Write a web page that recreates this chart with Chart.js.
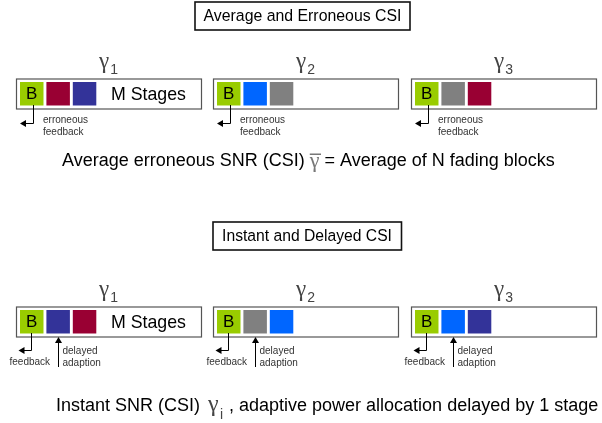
<!DOCTYPE html>
<html>
<head>
<meta charset="utf-8">
<script src="https://cdn.jsdelivr.net/npm/chart.js@4.4.1/dist/chart.umd.min.js"></script>
<style>
  html, body { margin: 0; padding: 0; background: #fff; overflow: hidden; }
  #chart-container { width: 602px; height: 423px; }
</style>
</head>
<body>
<div id="chart-container"><canvas id="chart"></canvas></div>
<script>
// text and stage sequences
const panelTitles = ["Average and Erroneous CSI", "Instant and Delayed CSI"];
const blockIndex = ["1", "2", "3"];
const avgStages = [["B", "red", "navy"], ["B", "blue", "gray"], ["B", "gray", "red"]];
const instStages = [["B", "navy", "red"], ["B", "gray", "blue"], ["B", "blue", "navy"]];
const stageNote = "M Stages";
const avgFeedback = ["erroneous", "feedback"];
const instFeedback = ["feedback"];
const delayNote = ["delayed", "adaption"];
const avgCaption = ["Average erroneous SNR (CSI)", "= Average of N fading blocks"];
const instCaption = ["Instant SNR (CSI)", ", adaptive power allocation delayed by 1 stage"];

// colours and layout (figure units = pixels of the 602x423 picture)
const palette = { B: "#99cc00", red: "#990033", navy: "#333399", blue: "#0066ff", gray: "#808080" };
const blockLeft = [16.5, 213.5, 411.5];
const blockWidth = 185;
const rowTop = [79, 307];
const rowHeight = 30;
const stageStep = 26.4;
const stageSide = 23.5;
const sans = '"Liberation Sans", Arial, sans-serif';
const serif = '"Liberation Serif", "Times New Roman", serif';

function stageDataset(stages, r) {
  const points = [];
  const colors = [];
  stages.forEach((seq, b) => {
    seq.forEach((name, i) => {
      points.push({ x: blockLeft[b] + 3.5 + stageSide / 2 + i * stageStep, y: rowTop[r] + 3 + stageSide / 2 });
      colors.push(palette[name]);
    });
  });
  return {
    data: points,
    pointStyle: "rect",
    pointRadius: stageSide / Math.SQRT2,
    pointBackgroundColor: colors,
    pointBorderWidth: 0,
    showLine: false,
  };
}

// font size that makes text span the given width
function fitSize(ctx, text, width, family) {
  ctx.font = "20px " + family;
  return (20 * width) / ctx.measureText(text).width;
}

function arrowHead(ctx, x, y, dir) {
  ctx.beginPath();
  if (dir === "left") {
    ctx.moveTo(x, y); ctx.lineTo(x + 6, y - 3.5); ctx.lineTo(x + 6, y + 3.5);
  } else {
    ctx.moveTo(x, y); ctx.lineTo(x - 3.5, y + 6); ctx.lineTo(x + 3.5, y + 6);
  }
  ctx.closePath();
  ctx.fill();
}

function drawGamma(ctx, x, y, sub, color) {
  ctx.fillStyle = color;
  ctx.textAlign = "left";
  ctx.textBaseline = "alphabetic";
  ctx.font = "23px " + serif;
  ctx.fillText("\u03b3", x, y);
  const w = ctx.measureText("\u03b3").width;
  ctx.font = "14px " + sans;
  ctx.fillText(sub, x + w + 1, y + 6);
}

const diagram = {
  id: "diagram",
  beforeDatasetsDraw(chart) {
    const ctx = chart.ctx;
    const X = (v) => chart.scales.x.getPixelForValue(v);
    const Y = (v) => chart.scales.y.getPixelForValue(v);
    ctx.save();
    // title frames
    ctx.strokeStyle = "#111";
    ctx.lineWidth = 1.6;
    ctx.strokeRect(X(195), Y(2), X(410) - X(195), Y(30) - Y(2));
    ctx.strokeRect(X(213), Y(222), X(401.5) - X(213), Y(250) - Y(222));
    // block frames
    ctx.strokeStyle = "#555";
    ctx.lineWidth = 1.2;
    rowTop.forEach((top) => {
      blockLeft.forEach((left) => {
        ctx.strokeRect(X(left), Y(top), X(left + blockWidth) - X(left), Y(top + rowHeight) - Y(top));
      });
    });
    ctx.restore();
  },
  afterDatasetsDraw(chart) {
    const ctx = chart.ctx;
    const X = (v) => chart.scales.x.getPixelForValue(v);
    const Y = (v) => chart.scales.y.getPixelForValue(v);
    ctx.save();

    // titles
    ctx.fillStyle = "#000";
    ctx.textAlign = "center";
    ctx.textBaseline = "middle";
    ctx.font = fitSize(ctx, panelTitles[0], 198, sans).toFixed(2) + "px " + sans;
    ctx.fillText(panelTitles[0], X(302.5), Y(16.5));
    ctx.font = fitSize(ctx, panelTitles[1], 170, sans).toFixed(2) + "px " + sans;
    ctx.fillText(panelTitles[1], X(307), Y(236.5));

    const noteSize = fitSize(ctx, stageNote, 75, sans);
    rowTop.forEach((top, r) => {
      blockLeft.forEach((left, b) => {
        // gamma labels
        drawGamma(ctx, X(left + blockWidth / 2 - 10), Y(top - 11), blockIndex[b], "#444");
        // B letter in first stage
        ctx.fillStyle = "#000";
        ctx.font = "17px " + sans;
        ctx.textAlign = "center";
        ctx.textBaseline = "middle";
        ctx.fillText("B", X(left + 3.5 + stageSide / 2), Y(top + 15));
        ctx.strokeStyle = "#000";
        ctx.lineWidth = 1;
        ctx.font = "10px " + sans;
        ctx.textAlign = "left";
        ctx.fillStyle = "#333";
        if (r === 0) {
          const vx = Math.round(X(left + 16.5)) + 0.5;
          ctx.beginPath();
          ctx.moveTo(vx, Y(top + 26));
          ctx.lineTo(vx, Y(123) + 0.5);
          ctx.lineTo(X(left + 6), Y(123) + 0.5);
          ctx.stroke();
          ctx.fillStyle = "#000";
          arrowHead(ctx, X(left + 3.5), Y(123) + 0.5, "left");
          ctx.fillStyle = "#333";
          ctx.fillText(avgFeedback[0], X(left + 26.5), Y(120));
          ctx.fillText(avgFeedback[1], X(left + 26.5), Y(132));
        } else {
          const vx = Math.round(X(left + 14.5)) + 0.5;
          ctx.beginPath();
          ctx.moveTo(vx, Y(top + 26));
          ctx.lineTo(vx, Y(350) + 0.5);
          ctx.lineTo(X(left + 5), Y(350) + 0.5);
          ctx.stroke();
          ctx.fillStyle = "#000";
          arrowHead(ctx, X(left + 2), Y(350) + 0.5, "left");
          const ax = Math.round(X(left + 41.5)) + 0.5;
          ctx.beginPath();
          ctx.moveTo(ax, Y(367));
          ctx.lineTo(ax, Y(top + rowHeight + 5));
          ctx.stroke();
          arrowHead(ctx, ax, Y(top + rowHeight), "up");
          ctx.fillStyle = "#333";
          ctx.fillText(instFeedback[0], X(left - 7), Y(362));
          ctx.fillText(delayNote[0], X(left + 46), Y(351));
          ctx.fillText(delayNote[1], X(left + 46), Y(363));
        }
      });
      // "M Stages" in the first block
      ctx.fillStyle = "#000";
      ctx.font = noteSize.toFixed(2) + "px " + sans;
      ctx.textAlign = "center";
      ctx.textBaseline = "middle";
      ctx.fillText(stageNote, X(148.5), Y(top + 16));
    });

    // caption 1 with gamma-bar
    const capFont = "18px " + sans;
    ctx.fillStyle = "#000";
    ctx.font = capFont;
    ctx.textAlign = "left";
    ctx.textBaseline = "middle";
    ctx.fillText(avgCaption[0], X(62), Y(161));
    const gx = X(62) + ctx.measureText(avgCaption[0]).width + 5;
    ctx.font = "22px " + serif;
    const gw = ctx.measureText("\u03b3").width;
    ctx.fillStyle = "#777";
    ctx.textBaseline = "alphabetic";
    ctx.fillText("\u03b3", gx, Y(167));
    ctx.fillRect(gx, Y(153.5), gw + 1.5, 1.5);
    ctx.fillStyle = "#000";
    ctx.font = capFont;
    ctx.textBaseline = "middle";
    ctx.fillText(avgCaption[1], gx + gw + 5, Y(161));

    // caption 2 with gamma_i
    ctx.fillText(instCaption[0], X(56), Y(406));
    ctx.fillText(instCaption[1], X(229), Y(406));
    ctx.font = "24px " + serif;
    ctx.fillStyle = "#444";
    ctx.textBaseline = "alphabetic";
    ctx.fillText("\u03b3", X(208), Y(411));
    ctx.font = "14px " + sans;
    ctx.fillText("i", X(220), Y(419));

    ctx.restore();
  },
};

new Chart(document.getElementById("chart"), {
  type: "scatter",
  data: { datasets: [stageDataset(avgStages, 0), stageDataset(instStages, 1)] },
  options: {
    responsive: true,
    maintainAspectRatio: false,
    animation: false,
    devicePixelRatio: 1,
    layout: { padding: 0, autoPadding: false },
    plugins: { legend: { display: false }, tooltip: { enabled: false } },
    scales: {
      x: { type: "linear", min: 0, max: 602, display: false },
      y: { type: "linear", min: 0, max: 423, reverse: true, display: false },
    },
  },
  plugins: [diagram],
});
</script>
</body>
</html>
